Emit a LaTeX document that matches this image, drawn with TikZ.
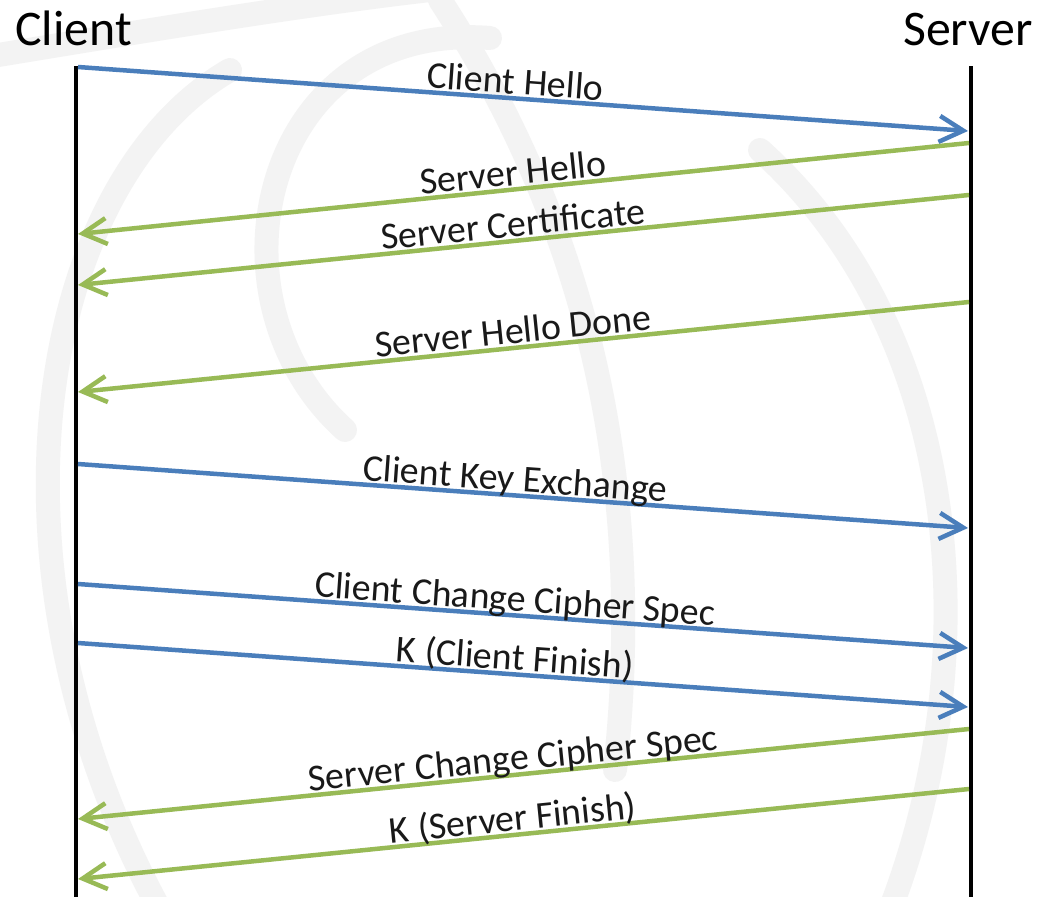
\documentclass[tikz,border=0pt]{standalone}
\usepackage{fontspec}
\setmainfont{Carlito}
\usetikzlibrary{arrows.meta}
\definecolor{msgblue}{HTML}{4A7EBB}
\definecolor{msggreen}{HTML}{98BA56}
\definecolor{wmark}{HTML}{F3F3F3}
\tikzset{
  title/.style={inner sep=0pt, anchor=base west, font=\fontsize{50}{52}\selectfont},
  lifeline/.style={line width=4.5bp, black},
  tomsg/.style={line width=4.5bp, msgblue, -{Straight Barb[length=24bp,width=26bp]}},
  frommsg/.style={line width=4.5bp, msggreen, -{Straight Barb[length=24bp,width=26bp]}},
  lbl/.style={sloped, anchor=south, inner sep=0pt, text depth=0.2em, font=\fontsize{38}{40}\selectfont, text=black!90},
  wm/.style={line width=24bp, wmark, line cap=round}
}
\begin{document}
\begin{tikzpicture}[x=1bp,y=-1bp]
\useasboundingbox (0,0) rectangle (1041,897);
\fill[white] (0,0) rectangle (1041,897);
% faint watermark
\begin{scope}
\clip (0,0) rectangle (1041,897);
\draw[wm] (-20,58) .. controls (150,30) and (300,5) .. (430,-10);
\draw[wm] (490,38) .. controls (260,20) and (200,300) .. (345,430);
\draw[wm] (440,0) .. controls (570,200) and (650,450) .. (615,770);
\draw[wm] (760,150) .. controls (960,330) and (990,650) .. (890,910);
\draw[wm] (230,70) .. controls (40,180) and (-30,560) .. (160,910);
\end{scope}
% titles
\node[title] (client) at (15,45) {Client};
\node[title] (server) at (903,45) {Server};
% lifelines
\coordinate (ctop) at (76,66);
\coordinate (cbot) at (76,897);
\coordinate (stop) at (971,66);
\coordinate (sbot) at (971,897);
\draw[lifeline] (ctop) -- (cbot);
\draw[lifeline] (stop) -- (sbot);
% message end points
\coordinate (c1) at (78,67);   \coordinate (s1) at (968,131);
\coordinate (s2) at (969,143); \coordinate (c2) at (78,234);
\coordinate (s3) at (969,195); \coordinate (c3) at (78,285);
\coordinate (s4) at (969,302); \coordinate (c4) at (78,392);
\coordinate (c5) at (78,464);  \coordinate (s5) at (968,528);
\coordinate (c6) at (78,584);  \coordinate (s6) at (968,648);
\coordinate (c7) at (78,643);  \coordinate (s7) at (968,707);
\coordinate (s8) at (969,729); \coordinate (c8) at (78,819);
\coordinate (s9) at (969,789); \coordinate (c9) at (78,879);
% messages
\draw[tomsg] (c1) -- node[lbl,pos=0.49] (m1) {Client Hello} (s1);
\draw[frommsg] (s2) -- node[lbl,pos=0.51] (m2) {Server Hello} (c2);
\draw[frommsg] (s3) -- node[lbl,pos=0.51] (m3) {Server Certificate} (c3);
\draw[frommsg] (s4) -- node[lbl,pos=0.51] (m4) {Server Hello Done} (c4);
\draw[tomsg] (c5) -- node[lbl,pos=0.49] (m5) {Client Key Exchange} (s5);
\draw[tomsg] (c6) -- node[lbl,pos=0.49] (m6) {Client Change Cipher Spec} (s6);
\draw[tomsg] (c7) -- node[lbl,pos=0.49] (m7) {K (Client Finish)} (s7);
\draw[frommsg] (s8) -- node[lbl,pos=0.51] (m8) {Server Change Cipher Spec} (c8);
\draw[frommsg] (s9) -- node[lbl,pos=0.51] (m9) {K (Server Finish)} (c9);
\end{tikzpicture}
\end{document}
